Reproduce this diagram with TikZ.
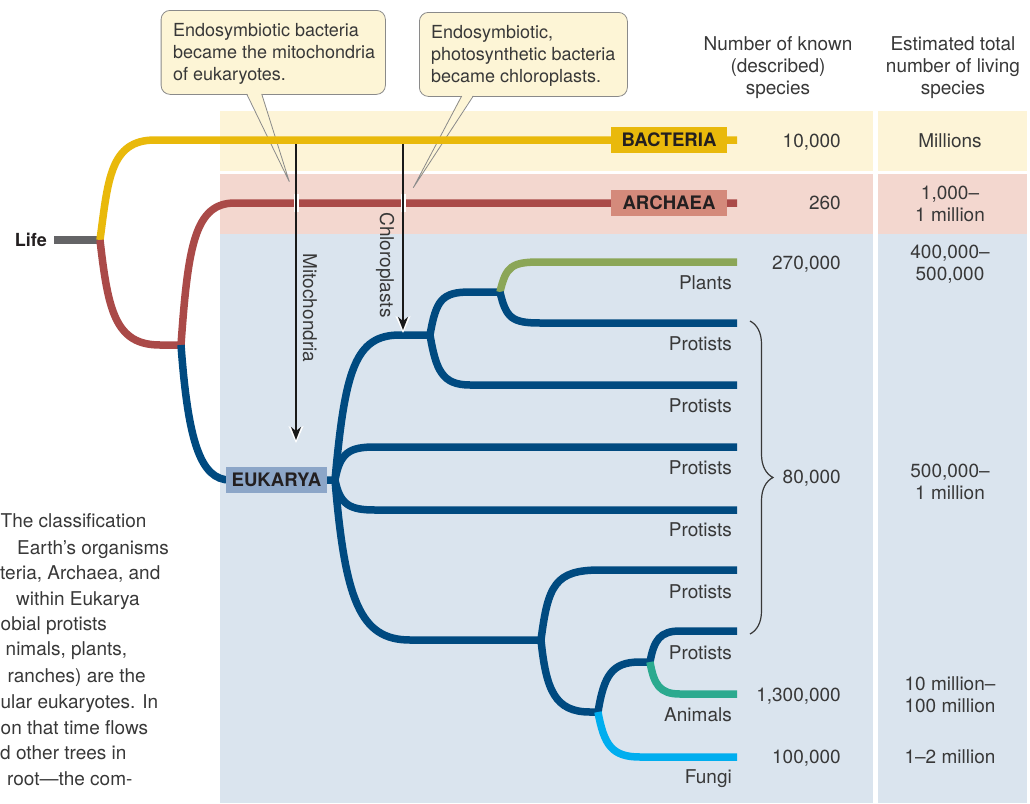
\documentclass[tikz,border=0pt]{standalone}
\usepackage{fontspec}
\setmainfont{TeX Gyre Heros}
\usetikzlibrary{arrows.meta,decorations.pathreplacing}
\definecolor{bandB}{HTML}{FDF4D7}
\definecolor{bandA}{HTML}{F3D7CF}
\definecolor{bandE}{HTML}{DAE4EE}
\definecolor{cBac}{HTML}{E9B90B}
\definecolor{cArc}{HTML}{AA4A48}
\definecolor{cArcBox}{HTML}{D48A7B}
\definecolor{cEuk}{HTML}{004A80}
\definecolor{cEukBox}{HTML}{8CA6C8}
\definecolor{cPlant}{HTML}{8BA657}
\definecolor{cAnim}{HTML}{2BAA8F}
\definecolor{cFung}{HTML}{00AEEF}
\definecolor{cLife}{HTML}{646466}
\definecolor{txt}{HTML}{383838}
\definecolor{txtB}{HTML}{231F20}
\definecolor{coFill}{HTML}{FDF5D6}
\definecolor{coLine}{HTML}{8A8A8A}
\begin{document}
\begin{tikzpicture}[x=1pt,y=-1pt,
  brl/.style={line width=7.5pt},
  tlbl/.style={text=txt, font=\fontsize{19}{22}\selectfont, inner sep=0pt, text height=13.6pt, text depth=0pt},
  tml/.style={text=txt, font=\fontsize{19}{22}\selectfont, inner sep=0pt, align=center},
  cotxt/.style={text=txt, font=\fontsize{18}{22}\selectfont, inner sep=0pt, align=left, anchor=west},
  cobox/.style={draw=coLine, fill=coFill, line width=0.8pt, rounded corners=9pt, anchor=north west, inner sep=0pt},
  cotip/.style={draw=coLine, line width=0.8pt},
  taxbox/.style={font=\fontsize{18.6}{22}\selectfont\bfseries, text=txtB, inner sep=0pt, minimum height=26pt, text height=13.3pt, text depth=0pt},
  symarr/.style={draw=black!90, line width=1.8pt, -{Stealth[length=13pt,width=10pt,inset=4pt]}},
  symhalo/.style={draw=white, line width=1.8pt, -{Stealth[length=17pt,width=15pt,inset=5pt]}},
  halo/.style={draw=white, line width=5pt},
  brc/.style={draw=txt, line width=1.2pt, decorate, decoration={brace, amplitude=23pt}},
]
\useasboundingbox (0,0) rectangle (1030,803);
\clip (0,0) rectangle (1030,803);

% ---------- background bands ----------
\fill[bandB] (220,111) rectangle (873,171);
\fill[bandB] (878,111) rectangle (1027,171);
\fill[bandA] (220,174) rectangle (873,234);
\fill[bandA] (878,174) rectangle (1027,234);
\fill[bandE] (220,234) rectangle (873,803);
\fill[bandE] (878,234) rectangle (1027,803);

% ---------- callouts ----------
\node[cobox, minimum width=224.3pt, minimum height=84pt] (co1) at (160.7,10) {};
\coordinate (co1a) at (246.7,93);
\coordinate (co1b) at (261.7,93);
\coordinate (co1tip) at (289.3,181.7);
\fill[coFill] (co1a) -- (co1tip) -- (co1b) -- cycle;
\draw[cotip] ([yshift=-1pt]co1a) -- (co1tip) -- ([yshift=-1pt]co1b);
\node[cotxt] (co1t) at (173,54) {Endosymbiotic bacteria\\became the mitochondria\\of eukaryotes.};

\node[cobox, minimum width=208pt, minimum height=84pt] (co2) at (419,12) {};
\coordinate (co2a) at (461.7,95);
\coordinate (co2b) at (473.3,95);
\coordinate (co2tip) at (413.3,187.7);
\fill[coFill] (co2a) -- (co2tip) -- (co2b) -- cycle;
\draw[cotip] ([yshift=-1pt]co2a) -- (co2tip) -- ([yshift=-1pt]co2b);
\node[cotxt] (co2t) at (431,56) {Endosymbiotic,\\photosynthetic bacteria\\became chloroplasts.};

% ---------- tree coordinates ----------
\coordinate (lifeL) at (54,240);
\coordinate (root) at (100,240);
\coordinate (nAE) at (181,345);
\coordinate (bacEnd) at (737,140);
\coordinate (arcEnd) at (737,203);
\coordinate (nE) at (335,480);
\coordinate (nA) at (430,335);
\coordinate (nP) at (500,292);
\coordinate (nB) at (541,640);
\coordinate (nC) at (598,712);
\coordinate (nD) at (650,662);
\coordinate (ePl) at (737,262);
\coordinate (ePr1) at (737,323);
\coordinate (ePr2) at (737,385);
\coordinate (ePr3) at (737,447);
\coordinate (ePr4) at (737,510);
\coordinate (ePr5) at (737,570);
\coordinate (ePr6) at (737,631);
\coordinate (eAn) at (737,694);
\coordinate (eFu) at (737,757);

% ---------- tree ----------
\draw[brl, cLife] (lifeL) -- (root);
\draw[brl, cBac] (root) .. controls (108,180) and (110,140) .. (155,140) -- (bacEnd);
\draw[brl, cArc] (root) .. controls (108,310) and (115,345) .. (160,345) -- (nAE);
\draw[brl, cArc] (nAE) .. controls (188,245) and (195,203) .. (235,203) -- (arcEnd);
\draw[brl, cEuk] (nAE) .. controls (188,440) and (200,480) .. (230,480) -- (nE);
\draw[brl, cEuk] (nE) .. controls (345,370) and (355,335) .. (400,335) -- (nA);
\draw[brl, cEuk] (nE) .. controls (340,452) and (350,447) .. (375,447) -- (ePr3);
\draw[brl, cEuk] (nE) .. controls (340,505) and (350,510) .. (375,510) -- (ePr4);
\draw[brl, cEuk] (nE) .. controls (345,600) and (360,640) .. (410,640) -- (nB);
\draw[brl, cEuk] (nA) .. controls (436,300) and (442,292) .. (470,292) -- (nP);
\draw[brl, cEuk] (nA) .. controls (436,370) and (442,385) .. (470,385) -- (ePr2);
\draw[brl, cPlant] (nP) .. controls (506,266) and (512,262) .. (540,262) -- (ePl);
\draw[brl, cEuk] (nP) .. controls (506,318) and (512,323) .. (540,323) -- (ePr1);
\draw[brl, cEuk] (nB) .. controls (548,585) and (555,570) .. (600,570) -- (ePr5);
\draw[brl, cEuk] (nB) .. controls (546,690) and (555,712) .. (590,712) -- (nC);
\draw[brl, cEuk] (nC) .. controls (604,675) and (612,662) .. (640,662) -- (nD);
\draw[brl, cFung] (nC) .. controls (604,745) and (612,757) .. (640,757) -- (eFu);
\draw[brl, cEuk] (nD) .. controls (654,640) and (660,631) .. (680,631) -- (ePr6);
\draw[brl, cAnim] (nD) .. controls (654,685) and (660,694) .. (680,694) -- (eAn);

% ---------- taxon boxes ----------
\node[taxbox, fill=cBac, minimum width=116pt] (bac) at (669,140) {BACTERIA};
\node[taxbox, fill=cArcBox, minimum width=116pt] (arc) at (669,203) {ARCHAEA};
\node[taxbox, fill=cEukBox, minimum width=101pt] (euk) at (276.5,480) {EUKARYA};
\node[taxbox, font=\fontsize{18}{22}\selectfont\bfseries, anchor=east, minimum height=0pt] (life) at (47,240) {Life};

% ---------- endosymbiosis arrows ----------
\coordinate (mitoS) at (296,144);
\coordinate (mitoE) at (296,440);
\coordinate (mitoH) at (296,443);
\coordinate (chloS) at (403,144);
\coordinate (chloE) at (403,330);
\coordinate (chloH) at (403,333);
\draw[halo] (296,194) -- (296,212);
\draw[halo] (403,194) -- (403,212);
\draw[symhalo] (296,420) -- (mitoH);
\draw[symhalo] (403,310) -- (chloH);
\draw[symarr] (mitoS) -- (mitoE);
\draw[symarr] (chloS) -- (chloE);
\node[tlbl, rotate=-90] (mitoL) at (310,308) {Mitochondria};
\node[tlbl, rotate=-90] (chloL) at (387,265) {Chloroplasts};

% ---------- leaf labels ----------
\node[tlbl, anchor=east] (lPl) at (732,283) {Plants};
\node[tlbl, anchor=east] (lPr1) at (732,344) {Protists};
\node[tlbl, anchor=east] (lPr2) at (732,406) {Protists};
\node[tlbl, anchor=east] (lPr3) at (732,468) {Protists};
\node[tlbl, anchor=east] (lPr4) at (732,530) {Protists};
\node[tlbl, anchor=east] (lPr5) at (732,592) {Protists};
\node[tlbl, anchor=east] (lPr6) at (732,653) {Protists};
\node[tlbl, anchor=east] (lAn) at (732,715) {Animals};
\node[tlbl, anchor=east] (lFu) at (732,777) {Fungi};

% ---------- brace ----------
\coordinate (brT) at (750,321);
\coordinate (brB) at (750,634);
\draw[brc] (brT) -- (brB);

% ---------- column headers ----------
\node[tml] (h1) at (778,68) {Number of known\\(described)\\species};
\node[tml] (h2) at (953,68) {Estimated total\\number of living\\species};

% ---------- known species ----------
\node[tlbl, anchor=east] (k1) at (841,141) {10,000};
\node[tlbl, anchor=east] (k2) at (841,203) {260};
\node[tlbl, anchor=east] (k3) at (841,263) {270,000};
\node[tlbl, anchor=east] (k4) at (841,477) {80,000};
\node[tlbl, anchor=east] (k5) at (841,695) {1,300,000};
\node[tlbl, anchor=east] (k6) at (841,757) {100,000};

% ---------- estimated totals ----------
\node[tlbl] (t1) at (950,141) {Millions};
\node[tml] (t2) at (950,204) {1,000–\\1 million};
\node[tml] (t3) at (950,264) {400,000–\\500,000};
\node[tml] (t4) at (950,482) {500,000–\\1 million};
\node[tml] (t5) at (950,695) {10 million–\\100 million};
\node[tlbl] (t6) at (950,757) {1–2 million};

% ---------- caption fragment (cut at the left edge) ----------
\node[tlbl, anchor=west] (cp1) at (0.5,521) {The classification};
\node[tlbl, anchor=west] (cp2) at (17,548) {Earth’s organisms};
\node[tlbl, anchor=west] (cp3) at (0,573) {teria, Archaea, and};
\node[tlbl, anchor=west] (cp4) at (16,599) {within Eukarya};
\node[tlbl, anchor=west] (cp5) at (0.5,624) {obial protists};
\node[tlbl, anchor=west] (cp6) at (5.5,649) {nimals, plants,};
\node[tlbl, anchor=west] (cp7) at (7.5,676) {ranches) are the};
\node[tlbl, anchor=west] (cp8) at (0.4,702) {ular eukaryotes. In};
\node[tlbl, anchor=west] (cp9) at (0.5,728) {on that time flows};
\node[tlbl, anchor=west] (cp10) at (0,753) {d other trees in};
\node[tlbl, anchor=west] (cp11) at (7,779) {root—the com-};
\end{tikzpicture}
\end{document}
